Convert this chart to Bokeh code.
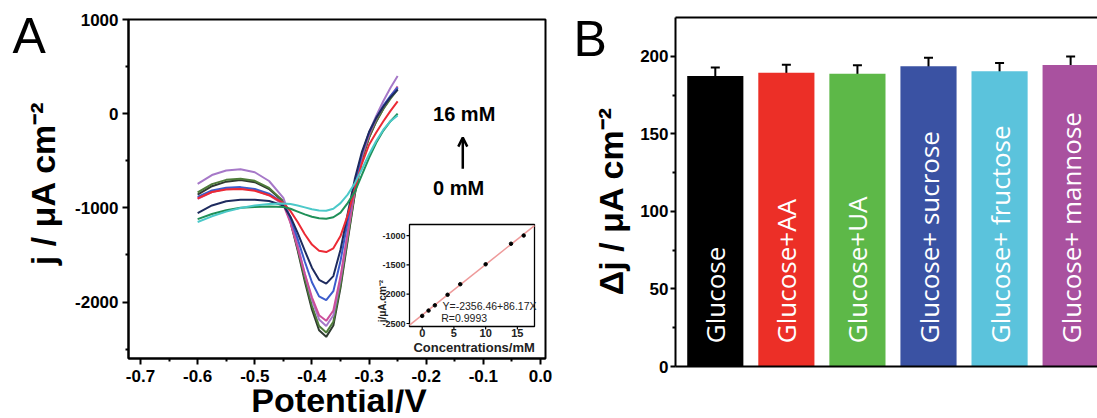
import math
from bokeh.plotting import figure
from bokeh.layouts import row, column
from bokeh.models import (Range1d, LinearAxis, FixedTicker, Arrow, OpenHead,
                          ColumnDataSource, Whisker, TeeHead, CustomJSTickFormatter)
from bokeh.core.properties import value
from bokeh.embed import file_html
from bokeh.resources import INLINE

# ---------------- data : panel A (CV curves) ----------------
potential = [-0.6, -0.575, -0.55, -0.525, -0.5, -0.475, -0.45, -0.4375, -0.425, -0.4125,
             -0.4, -0.3875, -0.375, -0.3625, -0.35, -0.3375, -0.325, -0.3125, -0.3,
             -0.2875, -0.275, -0.2625, -0.25]
j_dark = [-860, -770, -722, -705, -728, -800, -935, -1150, -1450, -1780, -2080, -2300, -2370,
          -2250, -1850, -1350, -860, -490, -255, -85, 55, 170, 270]
j_olive = [-835, -748, -703, -690, -713, -788, -930, -1140, -1430, -1750, -2040, -2255, -2325,
           -2210, -1820, -1330, -845, -480, -250, -80, 50, 160, 255]
j_violet = [-745, -652, -603, -590, -622, -715, -895, -1115, -1395, -1700, -1975, -2185, -2255,
            -2140, -1760, -1280, -800, -440, -200, -25, 135, 275, 400]
j_pink = [-905, -832, -797, -790, -812, -866, -965, -1160, -1420, -1700, -1950, -2140, -2200,
          -2090, -1730, -1265, -805, -455, -225, -55, 75, 185, 290]
j_blue = [-885, -815, -786, -780, -800, -850, -950, -1110, -1330, -1570, -1790, -1940, -1980,
          -1885, -1565, -1145, -745, -425, -205, -45, 85, 190, 280]
j_navy = [-1055, -975, -930, -913, -913, -928, -975, -1095, -1265, -1455, -1635, -1765, -1805,
          -1725, -1445, -1065, -695, -405, -195, -45, 75, 175, 255]
j_red = [-900, -832, -806, -800, -818, -866, -948, -1035, -1150, -1280, -1390, -1455, -1470,
         -1430, -1300, -1080, -800, -530, -330, -200, -80, 30, 130]
j_green = [-1120, -1065, -1025, -1000, -990, -985, -990, -1010, -1040, -1070, -1095, -1110, -1115,
           -1100, -1050, -950, -830, -650, -470, -310, -180, -80, 0]
j_cyan = [-1150, -1090, -1040, -1002, -975, -960, -955, -960, -975, -995, -1015, -1028, -1030,
          -1010, -950, -860, -740, -590, -430, -290, -170, -80, -20]

curves = [j_dark, j_olive, j_violet, j_pink, j_blue, j_navy, j_red, j_green, j_cyan]
curve_colors = ["#2f3a30", "#4e7b3a", "#a678c8", "#cc4f9a", "#3c5ccc", "#1e2b5e",
                "#ec2a35", "#1f9058", "#4cc9c9"]

x_ticks = [-0.7, -0.6, -0.5, -0.4, -0.3, -0.2, -0.1, 0.0]
x_minor = [-0.65, -0.55, -0.45, -0.35, -0.25, -0.15, -0.05]
y_ticks = [-2000, -1000, 0, 1000]
y_minor = [-2500, -1500, -500, 500]

# inset (calibration)
conc = [0, 1, 2, 4, 6, 10, 14, 16]
peak_j = [-2370, -2280, -2190, -2010, -1830, -1490, -1140, -1000]
fit_intercept = -2356.46
fit_slope = 86.17
inset_xticks = [0, 5, 10, 15]
inset_yticks = [-2500, -2000, -1500, -1000]

# ---------------- data : panel B (bars) ----------------
categories = ["Glucose", "Glucose+AA", "Glucose+UA", "Glucose+ sucrose",
              "Glucose+ fructose", "Glucose+ mannose"]
delta_j = [187.3, 189.3, 188.7, 193.6, 190.4, 194.3]
delta_err = [5.5, 5.3, 5.5, 5.5, 5.2, 5.5]
bar_colors = ["#000000", "#ec2f27", "#5db848", "#3a52a3", "#5bc3dc", "#a9519f"]
b_ticks = [0, 50, 100, 150, 200]
b_minor = [25, 75, 125, 175]

FONT = "Liberation Sans"
H = 418


def style_axis(ax, size="17px", standoff=4):
    ax.axis_line_width = 2
    ax.major_tick_line_width = 2
    ax.minor_tick_line_width = 2
    ax.major_tick_out = 6
    ax.major_tick_in = 0
    ax.minor_tick_out = 3
    ax.minor_tick_in = 0
    ax.major_label_text_font = FONT
    ax.major_label_text_font_style = "bold"
    ax.major_label_text_font_size = size
    ax.major_label_text_color = "black"
    ax.major_label_standoff = standoff


def strip(w, h, x_range, y_range):
    # a bare figure (no axes) used only to hold titles next to a panel
    f = figure(width=w, height=h, x_range=x_range, y_range=y_range,
               output_backend="svg", toolbar_location=None,
               x_axis_location=None, y_axis_location=None,
               min_border=0, min_border_left=0, min_border_right=0,
               min_border_top=0, min_border_bottom=0)
    f.grid.visible = False
    f.outline_line_color = None
    return f


# ================= Panel A =================
pa = figure(width=500, height=389, x_range=Range1d(-0.721, 0.00875),
            y_range=Range1d(-2600, 1000), output_backend="svg", toolbar_location=None,
            min_border_left=60, min_border_right=23, min_border_top=19,
            min_border_bottom=31)
pa.xgrid.visible = False
pa.ygrid.visible = False
pa.outline_line_color = "black"
pa.outline_line_width = 2
pa.outline_line_alpha = 1

style_axis(pa.xaxis[0], standoff=5)
style_axis(pa.yaxis[0], standoff=4)
pa.xaxis.ticker = FixedTicker(ticks=x_ticks, minor_ticks=x_minor)
pa.yaxis.ticker = FixedTicker(ticks=y_ticks, minor_ticks=y_minor)
pa.xaxis.formatter = CustomJSTickFormatter(code="return tick.toFixed(1)")
pa.yaxis.formatter = CustomJSTickFormatter(code="return tick.toFixed(0)")

for ys, c in zip(curves, curve_colors):
    pa.line(potential, ys, line_color=c, line_width=2)

# inset geometry (page pixels): main frame and inset frame
FA_L, FA_R, FA_T, FA_B = 128, 545, 19, 358
IN_L, IN_R, IN_T, IN_B = 409, 534, 224, 326
ix0, ix1 = -2.0, 17.7
iy0, iy1 = -2551.0, -812.0
sxp = (IN_R - IN_L) / (ix1 - ix0)
syp = (IN_B - IN_T) / (iy1 - iy0)
pa.extra_x_ranges = {"ix": Range1d(ix0 - (IN_L - FA_L) / sxp, ix1 + (FA_R - IN_R) / sxp)}
pa.extra_y_ranges = {"iy": Range1d(iy0 - (FA_B - IN_B) / syp, iy1 + (IN_T - FA_T) / syp)}
R = dict(x_range_name="ix", y_range_name="iy")

pa.quad(left=[ix0], right=[ix1], bottom=[iy0], top=[iy1], fill_color="white",
        line_color="black", line_width=1.3, **R)
pa.segment(x0=[ix0], y0=[fit_intercept + fit_slope * ix0], x1=[ix1],
           y1=[fit_intercept + fit_slope * ix1], line_color="#ee9a9a", line_width=1.5, **R)
pa.scatter(conc, peak_j, size=3.5, color="black", **R)
pa.segment(x0=[ix0 - 3 / sxp] * len(inset_yticks), y0=inset_yticks, x1=[ix0] * len(inset_yticks),
           y1=inset_yticks, line_color="black", line_width=1.2, **R)
pa.segment(x0=inset_xticks, y0=[iy0 - 3 / syp] * len(inset_xticks), x1=inset_xticks,
           y1=[iy0] * len(inset_xticks), line_color="black", line_width=1.2, **R)
pa.text(x=[ix0] * len(inset_yticks), y=inset_yticks, text=[str(t) for t in inset_yticks],
        x_offset=-4, text_align="right", text_baseline="middle", text_font=value(FONT),
        text_font_style="bold", text_font_size="9px", text_color="#222222", **R)
pa.text(x=inset_xticks, y=[iy0] * len(inset_xticks), text=[str(t) for t in inset_xticks],
        y_offset=2, text_align="center", text_baseline="top", text_font=value(FONT),
        text_font_style="bold", text_font_size="11px", text_color="#222222", **R)
pa.text(x=[0.2], y=[iy0], text=["Concentrations/mM"], y_offset=13, x_offset=-10,
        text_align="left", text_baseline="top", text_font=value(FONT),
        text_font_style="bold", text_font_size="13px", text_color="#222222", **R)
pa.text(x=[ix0], y=[-2480], text=["j/μA.cm⁻²"], x_offset=-27, angle=math.pi / 2,
        text_align="left", text_baseline="middle", text_font=value(FONT),
        text_font_style="bold", text_font_size="10px", text_color="#222222", **R)
pa.text(x=[3.2, 3.0], y=[-2193, -2398], text=["Y=-2356.46+86.17X", "R=0.9993"],
        text_align="left", text_baseline="middle", text_font=value(FONT),
        text_font_size="10.5px", text_color="#222222", **R)

# concentration arrow
pa.add_layout(Arrow(end=OpenHead(size=9, line_width=2.5, line_color="black"),
                    x_start=-0.136, y_start=-585, x_end=-0.136, y_end=-255,
                    line_width=2.5, line_color="black"))
pa.text(x=[-0.188, -0.188], y=[0, -787], text=["16 mM", "0 mM"], text_align="left",
        text_baseline="middle", text_font=value(FONT), text_font_style="bold",
        text_font_size="20px", text_color="black")

# strip left of panel A: its frame is aligned with panel A's frame, so it shares the y range
stripA = strip(68, H, Range1d(0, 68), pa.y_range)
stripA.text(x=[12], y=[805], text=["A"], text_align="left", text_baseline="middle",
            text_font=value(FONT), text_font_size="50px", text_color="black")
stripA.text(x=[42], y=[-1555], text=["j / μA cm⁻²"], angle=math.pi / 2,
            text_align="left", text_baseline="middle", text_font=value(FONT),
            text_font_style="bold", text_font_size="34px", text_color="black")

# strip below panel A: shares panel A's x range
botA = strip(500, 29, pa.x_range, Range1d(29, 0))
botA.text(x=[-0.506], y=[10], text=["Potential/V"], text_align="left",
          text_baseline="middle", text_font=value(FONT), text_font_style="bold",
          text_font_size="34px", text_color="black")

# ================= Panel B =================
xs = list(range(1, len(categories) + 1))
src = ColumnDataSource(dict(x=xs, top=delta_j, color=bar_colors,
                            upper=[v + e for v, e in zip(delta_j, delta_err)],
                            lower=[v - e for v, e in zip(delta_j, delta_err)],
                            label=categories))

pb = figure(width=460, height=H, x_range=Range1d(0.44, 6.378), y_range=Range1d(0, 225),
            output_backend="svg", toolbar_location=None, min_border_left=36,
            min_border_right=0, min_border_top=17, min_border_bottom=52)
pb.xgrid.visible = False
pb.ygrid.visible = False
pb.outline_line_color = None

pb.vbar(x="x", top="top", width=0.79, fill_color="color", line_color=None, source=src)
pb.add_layout(Whisker(base="x", upper="upper", lower="lower", source=src, line_width=2,
                      line_color="black",
                      upper_head=TeeHead(size=9, line_width=2, line_color="black"),
                      lower_head=TeeHead(size=9, line_width=2, line_color="black")))
pb.text(x="x", y=15, text="label", angle=math.pi / 2, text_align="left",
        text_baseline="middle", text_color="white", text_font=value("Open Sans"),
        text_font_size="26px", source=src)

style_axis(pb.yaxis[0], standoff=2)
pb.yaxis.major_tick_out = 5
pb.yaxis.ticker = FixedTicker(ticks=b_ticks, minor_ticks=b_minor)
pb.yaxis.formatter = CustomJSTickFormatter(code="return tick.toFixed(0)")

style_axis(pb.xaxis[0])
pb.xaxis.ticker = FixedTicker(ticks=[])
pb.xaxis.major_label_text_font_size = "0px"
pb.xaxis.major_tick_out = 0
pb.xaxis.minor_tick_out = 0

top_axis = LinearAxis(ticker=FixedTicker(ticks=[]), axis_line_width=2,
                      major_label_text_font_size="0px", major_tick_out=0, minor_tick_out=0,
                      major_label_standoff=0)
pb.add_layout(top_axis, "above")

# strip left of panel B: frame aligned with panel B's frame, so it shares the y range
stripB = strip(69, H, Range1d(0, 69), pb.y_range)
stripB.text(x=[5], y=[211], text=["B"], text_align="left", text_baseline="middle",
            text_font=value(FONT), text_font_size="50px", text_color="black")
stripB.text(x=[42], y=[46], text=["Δj / μA cm⁻²"], angle=math.pi / 2,
            text_align="left", text_baseline="middle", text_font=value(FONT),
            text_font_style="bold", text_font_size="34px", text_color="black")

layout = row(stripA, column(pa, botA), stripB, pb)
open("out.html", "w").write(file_html(layout, INLINE))
